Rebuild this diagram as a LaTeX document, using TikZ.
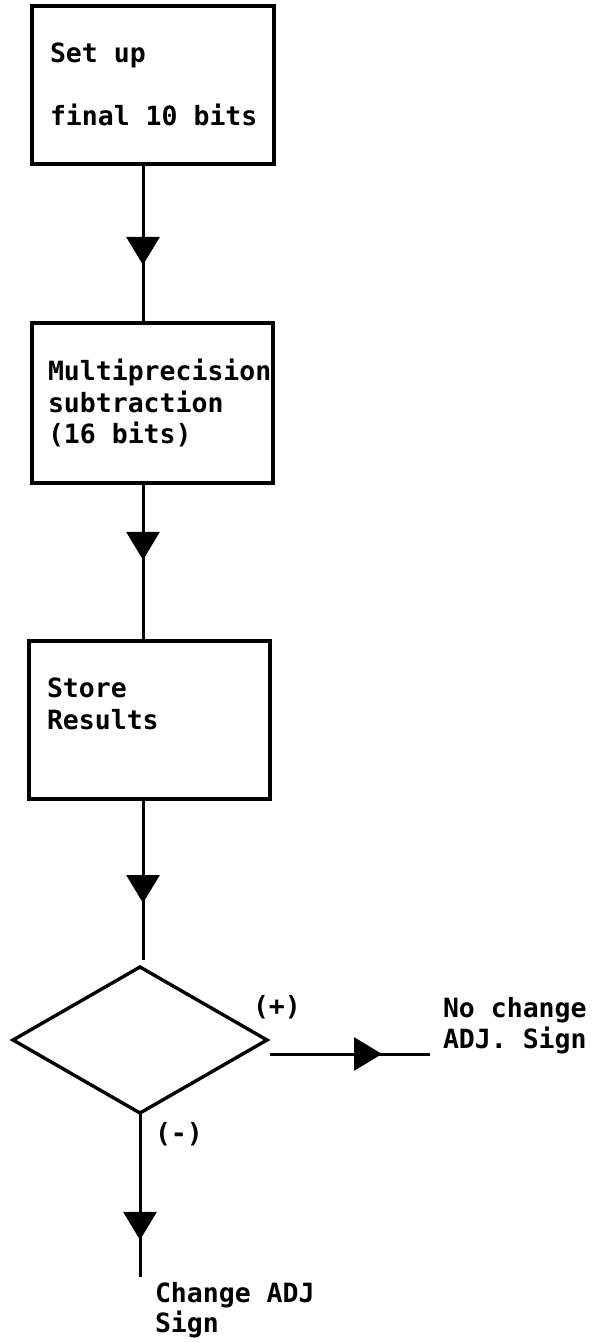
\documentclass[tikz,border=0pt]{standalone}
\usepackage{fontspec}
\setmonofont{DejaVu Sans Mono}
\usetikzlibrary{shapes.geometric,decorations.markings,arrows.meta}
\begin{document}
\begin{tikzpicture}[x=1pt,y=-1pt,
  every node/.style={inner sep=0pt, outer sep=0pt},
  boxnode/.style={draw, rectangle, line width=3.4pt},
  decision/.style={draw, diamond, line width=3.4pt},
  txt/.style={font=\fontsize{26.5}{31}\selectfont\ttfamily\bfseries, anchor=base west},
  plainline/.style={line width=3pt},
  flow/.style={plainline, postaction={decorate},
    decoration={markings, mark=at position #1 with {\arrow{Triangle[width=33pt,length=28pt]}}}}
]
\useasboundingbox[fill=white] (0,0) rectangle (599,1343);

% process boxes
\node[boxnode, minimum width=242pt, minimum height=158pt] (box1) at (153,85) {};
\node[boxnode, minimum width=241pt, minimum height=160pt] (box2) at (152.5,403) {};
\node[boxnode, minimum width=241pt, minimum height=158pt] (box3) at (149.5,720) {};
\node[decision, minimum width=254pt, minimum height=146pt] (dia) at (140,1040) {};
\coordinate (axis) at (143,0);

% texts
\node[txt] (t1a) at (50,63) {Set up};
\node[txt] (t1b) at (50,126) {final 10 bits};
\node[txt] (t2a) at (48,380) {Multiprecision};
\node[txt] (t2b) at (48,412) {subtraction};
\node[txt] (t2c) at (48,443) {(16 bits)};
\node[txt] (t3a) at (47,697) {Store};
\node[txt] (t3b) at (47,729) {Results};
\node[txt] (plus) at (253,1015) {(+)};
\node[txt] (minus) at (155,1142) {(-)};
\node[txt] (nc1) at (443,1017) {No change};
\node[txt] (nc2) at (443,1048) {ADJ. Sign};
\node[txt] (ch1) at (155,1302) {Change ADJ};
\node[txt] (ch2) at (155,1332) {Sign};

% connector end points
\coordinate (dtop) at ([yshift=7pt]dia.north);
\coordinate (hs) at ([shift={(3pt,-14pt)}]dia.east);
\coordinate (he) at ([xshift=160pt]hs);
\coordinate (de) at ([yshift=-164pt]dia.south);

% connectors
\draw[flow=0.635] (box1.south -| axis) -- (box2.north -| axis);
\draw[flow=0.487] (box2.south -| axis) -- (box3.north -| axis);
\draw[flow=0.646] (box3.south -| axis) -- (dtop -| axis);
\draw[flow=0.70] (hs) -- (he);
\draw[flow=0.774] (dia.south) -- (de);
\end{tikzpicture}
\end{document}
